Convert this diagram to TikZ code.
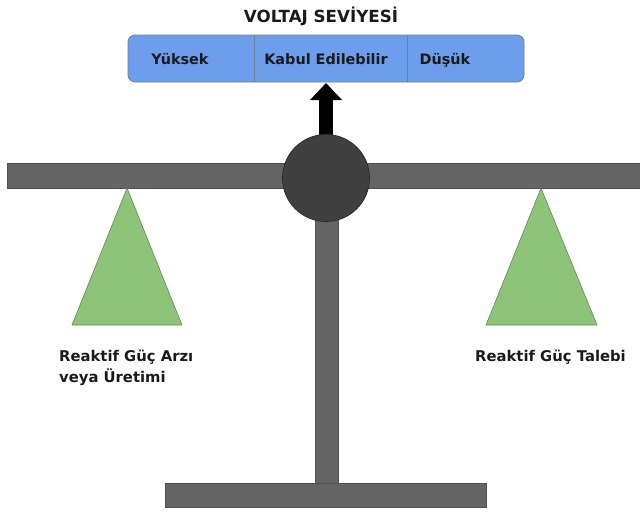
\documentclass[tikz,border=0pt]{standalone}
\usepackage{fontspec}
\setmainfont{DejaVu Sans}
\usetikzlibrary{arrows.meta}
\definecolor{barblue}{HTML}{6D9EEB}
\definecolor{barline}{HTML}{6F7F96}
\definecolor{beamgray}{HTML}{646464}
\definecolor{hubgray}{HTML}{404040}
\definecolor{trigreen}{HTML}{8EC47A}
\definecolor{triline}{HTML}{5E8C4E}
\definecolor{txt}{HTML}{1A1A1A}
\tikzset{
  part/.style={fill=beamgray, draw=beamgray!80!black, line width=0.6pt},
  cell/.style={font=\bfseries\fontsize{14.4}{16}\selectfont, text=txt, anchor=base, inner sep=0pt},
  lbl/.style={font=\bfseries\fontsize{14.8}{18}\selectfont, text=txt, anchor=base west, inner sep=0pt},
  pan/.style={fill=trigreen, draw=triline, line width=0.6pt}
}
\begin{document}
\begin{tikzpicture}[x=1pt, y=-1pt]
\useasboundingbox (0,0) rectangle (640,512);
% title
\node[font=\bfseries\fontsize{16.7}{18}\selectfont, text=txt, anchor=base, inner sep=0pt] (title) at (321,22) {VOLTAJ SEVİYESİ};
% voltage bar
\draw[fill=barblue, draw=barline, line width=0.8pt, rounded corners=7pt] (128,35) rectangle (524,82);
\draw[barline, line width=0.8pt] (254,35) -- (254,82);
\draw[barline, line width=0.8pt] (407,35) -- (407,82);
\coordinate (barbot) at (326,83);
\node[cell] (high) at (180,64) {Yüksek};
\node[cell] (ok) at (326,64) {Kabul Edilebilir};
\node[cell] (low) at (445,64) {Düşük};
% beam, post, base
\draw[part] (7,163) rectangle (641,188);
\draw[part] (315,200) rectangle (338,483);
\draw[part] (165,483) rectangle (486,507);
% pans
\draw[pan] (127,188) -- (182,325) -- (72,325) -- cycle;
\draw[pan] (541,188) -- (597,325) -- (486,325) -- cycle;
% arrow
\node[circle, minimum size=87pt, inner sep=0pt] (hub) at (326,178) {};
\draw[line width=14pt, -{Triangle[width=31pt,length=17pt]}] (hub.center) -- (barbot);
% hub
\node[circle, minimum size=87pt, inner sep=0pt, fill=hubgray, draw=hubgray!70!black, line width=0.8pt] at (326,178) {};
% labels
\node[lbl] (supply) at (59,361) {Reaktif Güç Arzı};
\node[lbl] (supply2) at (59,382) {veya Üretimi};
\node[lbl] (demand) at (475,361) {Reaktif Güç Talebi};
\end{tikzpicture}
\end{document}
